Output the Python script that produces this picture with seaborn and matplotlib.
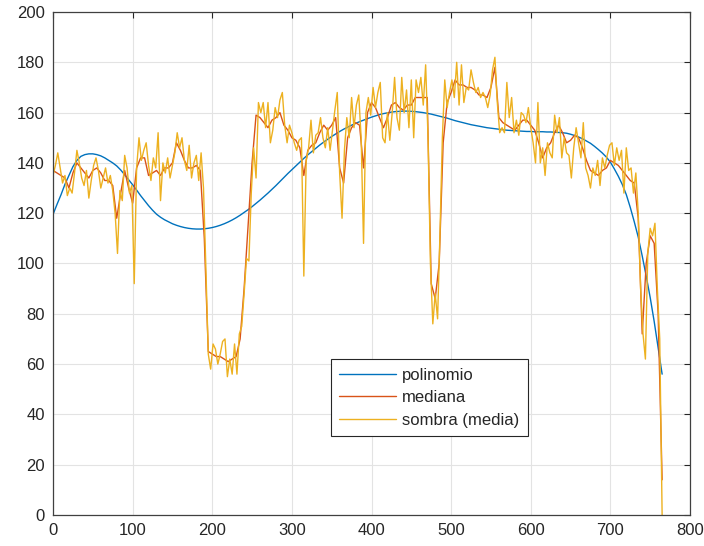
import numpy as np
import pandas as pd
import matplotlib
matplotlib.use("Agg")
import matplotlib.pyplot as plt
import seaborn as sns

# ── Data ──────────────────────────────────────────────────────────────────────
SOMBRA_STEP  = 3     # sample spacing along x for each series
MEDIANA_STEP = 5
POLI_STEP    = 5

sombra = [
    135, 139, 144, 138, 132, 135, 127, 130, 128, 136, 145, 140, 134, 131, 137, 126, 133, 139, 142, 137,
    130, 134, 138, 132, 135, 129, 120, 104, 129, 125, 143, 138, 128, 131, 92, 138, 150, 141, 145, 148,
    139, 133, 142, 138, 152, 125, 140, 136, 142, 134, 139, 144, 152, 146, 150, 141, 137, 147, 134, 140,
    143, 133, 144, 130, 98, 64, 58, 68, 66, 60, 64, 69, 70, 55, 62, 56, 68, 56, 72, 75,
    88, 102, 101, 128, 146, 134, 164, 160, 164, 154, 164, 148, 153, 162, 158, 165, 168, 155, 148, 155,
    152, 148, 145, 149, 150, 95, 141, 146, 157, 144, 151, 152, 158, 150, 146, 154, 145, 153, 161, 168,
    136, 118, 145, 158, 150, 166, 154, 163, 167, 150, 108, 160, 166, 159, 170, 162, 168, 172, 150, 148,
    160, 149, 160, 174, 158, 153, 174, 160, 169, 154, 173, 150, 173, 168, 174, 163, 179, 150, 100, 76,
    88, 78, 112, 150, 173, 162, 168, 173, 166, 180, 163, 179, 164, 170, 169, 177, 172, 168, 170, 166,
    168, 166, 162, 167, 177, 182, 164, 152, 154, 152, 172, 158, 166, 152, 157, 151, 160, 159, 156, 162,
    154, 148, 140, 164, 140, 146, 135, 148, 144, 142, 159, 152, 158, 142, 150, 144, 143, 134, 146, 154,
    148, 142, 156, 138, 135, 130, 138, 135, 141, 131, 142, 138, 143, 147, 148, 139, 146, 141, 145, 128,
    146, 137, 138, 128, 136, 120, 90, 72, 62, 104, 114, 111, 116, 90, 70, 0,
]

mediana = [
    137, 136, 135, 134, 130, 136, 140, 138, 136, 134, 137, 138, 136, 133, 133, 131, 118, 128, 137, 130,
    124, 138, 142, 142, 135, 136, 137, 135, 138, 138, 140, 148, 145, 141, 138, 138, 139, 137, 110, 65,
    64, 63, 63, 62, 61, 62, 63, 70, 90, 115, 140, 159, 158, 156, 154, 157, 158, 160, 155, 153,
    150, 149, 146, 135, 145, 147, 148, 152, 155, 153, 155, 158, 138, 132, 150, 154, 156, 155, 138, 160,
    164, 162, 158, 154, 158, 163, 164, 162, 161, 163, 163, 166, 166, 166, 166, 92, 86, 100, 148, 164,
    168, 173, 171, 171, 170, 170, 169, 167, 167, 166, 170, 178, 158, 156, 155, 154, 153, 155, 157, 157,
    155, 153, 148, 142, 146, 148, 152, 155, 152, 148, 149, 151, 150, 146, 141, 137, 136, 135, 137, 138,
    141, 140, 139, 137, 135, 133, 132, 118, 72, 100, 111, 108, 80, 14,
]

polinomio = [
    119.5, 123.5, 127.3, 131.5, 135, 138.5, 141, 142.6, 143.3, 143.6, 143.6, 143.3, 142.8, 142, 141, 140, 138.8, 137.2, 135.3, 133.3,
    131.3, 129.2, 127, 125, 123, 121.2, 119.6, 118.4, 117.4, 116.6, 115.8, 115.2, 114.7, 114.3, 114, 113.8, 113.7, 113.7, 113.8, 114,
    114.3, 114.7, 115.2, 115.8, 116.5, 117.3, 118.2, 119.2, 120.3, 121.4, 122.6, 123.9, 125.2, 126.6, 128, 129.5, 131, 132.6, 134.2, 135.8,
    137.3, 138.8, 140.3, 141.8, 143.2, 144.5, 145.8, 147.1, 148.3, 149.4, 150.5, 151.5, 152.5, 153.4, 154.2, 155, 155.7, 156.4, 157, 157.6,
    158.2, 158.7, 159.2, 159.6, 159.9, 160.2, 160.4, 160.5, 160.6, 160.6, 160.5, 160.4, 160.2, 160, 159.7, 159.4, 159, 158.6, 158.2, 157.8,
    157.3, 156.8, 156.4, 156, 155.6, 155.2, 154.9, 154.6, 154.3, 154, 153.8, 153.6, 153.4, 153.2, 153, 152.9, 152.8, 152.7, 152.6, 152.5,
    152.5, 152.4, 152.4, 152.4, 152.3, 152.3, 152.2, 152.1, 152, 151.8, 151.4, 150.9, 150.3, 149.6, 148.7, 147.8, 146.6, 145.3, 143.9, 142.3,
    140.3, 137.6, 134.7, 131.4, 127.4, 122.3, 116.6, 110.5, 103, 95, 86.5, 77, 66.5, 56,
]

labels = ["polinomio", "mediana", "sombra (media)"]
x_ticks = np.arange(0, 801, 100)
y_ticks = np.arange(0, 201, 20)

df_poli = pd.DataFrame({"x": np.arange(len(polinomio)) * POLI_STEP, "y": polinomio})
df_med  = pd.DataFrame({"x": np.arange(len(mediana)) * MEDIANA_STEP, "y": mediana})
df_som  = pd.DataFrame({"x": np.arange(len(sombra)) * SOMBRA_STEP, "y": sombra})

# ── Style ─────────────────────────────────────────────────────────────────────
sns.set_style("whitegrid")
plt.rcParams["font.family"] = ["Liberation Sans", "DejaVu Sans"]

fig = plt.figure(figsize=(7.04, 5.46), dpi=100)
ax = fig.add_axes([0.0753, 0.0568, 0.9048, 0.9212])

sns.lineplot(data=df_poli, x="x", y="y", ax=ax, color="#0072BD", lw=1.0,
             estimator=None, label=labels[0])
sns.lineplot(data=df_med, x="x", y="y", ax=ax, color="#D95319", lw=1.0,
             estimator=None, label=labels[1])
sns.lineplot(data=df_som, x="x", y="y", ax=ax, color="#EDB120", lw=1.0,
             estimator=None, label=labels[2])

ax.set_xlim(0, 800); ax.set_ylim(0, 200)
ax.set_xticks(x_ticks); ax.set_yticks(y_ticks)
ax.set_xlabel(""); ax.set_ylabel("")
ax.grid(True, color="#e3e3e3", lw=0.8)
ax.tick_params(direction="in", length=4, width=0.8, top=True, right=True,
               color="#262626", labelcolor="#262626", labelsize=12, pad=6)
for sp in ax.spines.values():
    sp.set_color("#404040"); sp.set_linewidth(0.9)

leg = ax.legend(loc="lower left", bbox_to_anchor=(0.436, 0.157), borderaxespad=0,
                frameon=True, fancybox=False, framealpha=1, edgecolor="#262626",
                fontsize=12, handlelength=3.4, handletextpad=0.4,
                labelspacing=0.45, borderpad=0.5)
leg.get_frame().set_linewidth(0.8)

fig.savefig("out.png", dpi=100)
